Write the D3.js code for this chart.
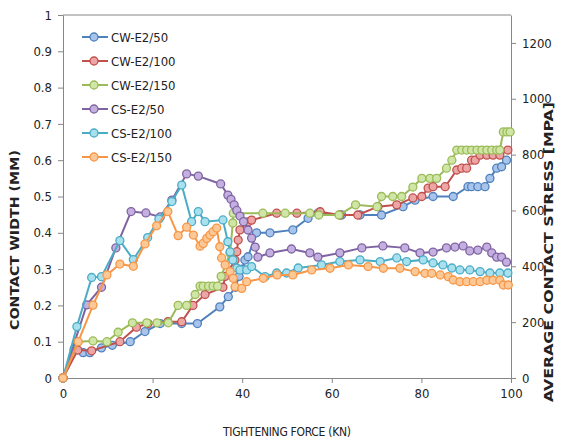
<!DOCTYPE html>
<html>
<head>
<meta charset="utf-8">
<script src="https://cdn.jsdelivr.net/npm/d3@7"></script>
<style>
  body { margin: 0; background: #fff; }
  text { font-family: "DejaVu Sans Condensed", "Liberation Sans Narrow", "Liberation Sans", sans-serif; }
</style>
</head>
<body>
<div id="container"></div>
<script>
// tightening force (kN) / contact width (mm)
const cwE2_50 = [[0,0],[2.5,0.08],[4.5,0.07],[6,0.07],[8.6,0.083],[11,0.09],[15,0.1],[18.3,0.128],[21.7,0.15],[26.5,0.15],[30,0.15],[35,0.196],[36.9,0.224],[38.5,0.25],[39.3,0.28],[40,0.3],[40.6,0.325],[41.3,0.334],[43.2,0.4],[46.2,0.4],[51.3,0.408],[54.7,0.44],[56.9,0.454],[62.2,0.449],[66.3,0.449],[71.1,0.449],[75.9,0.472],[78.6,0.49],[82.6,0.5],[87.1,0.5],[90.4,0.527],[91.2,0.527],[92.6,0.527],[94.2,0.527],[95.3,0.55],[96.8,0.578],[97.9,0.582],[99,0.6]];
const cwE2_100 = [[0,0],[3.3,0.077],[6.4,0.075],[12.7,0.1],[16.4,0.14],[19,0.15],[23.4,0.155],[26.5,0.155],[29,0.2],[31.7,0.23],[35.7,0.25],[36.2,0.28],[38.4,0.325],[38.8,0.348],[39.1,0.38],[39.5,0.408],[41.3,0.43],[42.1,0.435],[47.7,0.454],[52.2,0.454],[57.4,0.458],[61.8,0.449],[65.8,0.449],[70.3,0.472],[74.5,0.477],[78.1,0.496],[80.1,0.5],[81.5,0.523],[82.6,0.527],[85.3,0.527],[87.9,0.573],[89,0.578],[90.1,0.578],[91.2,0.6],[92,0.6],[93.1,0.614],[94.6,0.614],[96,0.614],[97.5,0.614],[99.3,0.628]];
const cwE2_150 = [[0,0],[3.3,0.1],[6.7,0.102],[9.8,0.1],[12.3,0.126],[15.5,0.152],[18.7,0.152],[21,0.152],[23.5,0.152],[25.7,0.2],[27.6,0.2],[29.5,0.23],[30.6,0.253],[31.3,0.253],[32.5,0.253],[33.5,0.253],[34.5,0.253],[35.3,0.28],[37.3,0.344],[37.9,0.427],[38,0.454],[44.6,0.454],[49.6,0.454],[55.1,0.454],[57.1,0.449],[61.6,0.449],[65.3,0.477],[70.1,0.472],[71.1,0.5],[73.6,0.5],[75.6,0.5],[78.1,0.526],[80.1,0.55],[81.9,0.55],[83.4,0.55],[85.6,0.578],[86.8,0.6],[87.9,0.628],[89,0.628],[90.1,0.628],[91.2,0.628],[92.4,0.628],[93.5,0.628],[94.6,0.628],[95.7,0.628],[96.8,0.628],[97.5,0.628],[98.3,0.678],[99.1,0.678],[99.8,0.678]];
// tightening force (kN) / average contact stress (MPa)
const csE2_50 = [[0,0],[5.3,262],[8.6,325],[11.8,466],[15.2,596],[18.5,591],[21.7,577],[24.3,637],[27.6,731],[30.2,723],[35.2,695],[36.8,655],[37.5,640],[38.2,620],[38.8,600],[39.5,580],[40.3,560],[41.3,530],[42.1,501],[42.9,469],[43.5,433],[46.2,448],[51,462],[55.1,448],[56.9,433],[61.8,448],[66.7,466],[71.4,473],[76.3,466],[79.7,448],[82.6,451],[85.6,466],[87.5,469],[89.3,473],[90.8,455],[92.6,458],[94.6,469],[95.7,448],[96.8,433],[97.9,433],[99,415]];
const csE2_100 = [[0,0],[3.1,184],[6.4,360],[8.6,363],[12.7,492],[15.7,424],[18.9,503],[21.4,569],[24.3,632],[26.5,691],[28.7,560],[30.2,596],[31.7,560],[35.7,566],[36.8,488],[37.3,452],[37.9,423],[38.8,394],[39.5,387],[41,387],[42.1,399],[45.1,363],[47.7,376],[49.9,376],[52.5,394],[57.7,405],[61.8,417],[66.3,423],[70.8,417],[74.5,430],[76.7,417],[80.4,423],[82.6,412],[84.8,405],[86.8,394],[88.6,387],[90.8,387],[93.1,381],[95.3,376],[97.5,376],[99.3,376]];
const csE2_150 = [[0,0],[3.4,130],[6.7,261],[9.8,369],[12.7,408],[15.7,400],[18.3,480],[20.9,545],[23.4,596],[25.7,510],[27.6,540],[29.1,512],[30.6,472],[31.3,482],[32.1,500],[32.8,512],[33.5,524],[34.3,537],[35,470],[35.4,430],[36.2,405],[37.3,381],[38,357],[38.4,327],[39.9,321],[41,345],[44.7,357],[47.8,369],[51.3,369],[55.5,387],[59.6,393],[63.7,405],[68.1,399],[71.5,393],[75.2,393],[78.6,381],[80.8,375],[82.3,375],[84.2,369],[86,363],[87.1,351],[88.6,345],[90.1,345],[91.6,345],[93.1,345],[94.6,350],[96,350],[97.5,350],[98.3,333],[99.4,333]];

const seriesNames = ["CW-E2/50", "CW-E2/100", "CW-E2/150", "CS-E2/50", "CS-E2/100", "CS-E2/150"];
const xTicks = [0, 20, 40, 60, 80, 100];
const leftTicks = [0, 0.1, 0.2, 0.3, 0.4, 0.5, 0.6, 0.7, 0.8, 0.9, 1];
const rightTicks = [0, 200, 400, 600, 800, 1000, 1200];

function main() {
    const width = 564, height = 442;
    const svg = d3.select("#container")
        .append("svg")
        .attr("width", width)
        .attr("height", height);

    const x = d3.scaleLinear().domain([0, 100]).range([63, 511]);
    const yL = d3.scaleLinear().domain([0, 1]).range([378, 15]);
    const yR = d3.scaleLinear().domain([0, 1300]).range([378, 15]);

    const colors = ["#4F81BD", "#C0504D", "#9BBB59", "#8064A2", "#4BACC6", "#F79646"];
    const fills = ["#a9c4eb", "#eba6a5", "#d0e6a6", "#c3b0e0", "#a8e0ee", "#fcc896"];

    // frame top line
    svg.append("line")
        .attr("x1", 63).attr("x2", 511)
        .attr("y1", 15).attr("y2", 15)
        .attr("stroke", "#868686");

    const styleAxis = g => {
        g.select(".domain").attr("stroke", "#868686");
        g.selectAll(".tick line").attr("stroke", "#868686");
        g.selectAll(".tick text").attr("fill", "#222").attr("font-size", 13);
    };

    svg.append("g")
        .attr("transform", "translate(0,378)")
        .call(d3.axisBottom(x).tickValues(xTicks).tickSize(5).tickSizeOuter(0).tickPadding(6))
        .call(styleAxis);
    svg.append("g")
        .attr("transform", "translate(63,0)")
        .call(d3.axisLeft(yL).tickValues(leftTicks).tickSize(5).tickSizeOuter(0).tickPadding(6).tickFormat(d3.format("")))
        .call(styleAxis);
    svg.append("g")
        .attr("transform", "translate(511,0)")
        .call(d3.axisRight(yR).tickValues(rightTicks).tickSize(5).tickSizeOuter(0).tickPadding(6).tickFormat(d3.format("d")))
        .call(styleAxis);

    // axis titles
    svg.append("text")
        .attr("x", 287).attr("y", 436)
        .attr("text-anchor", "middle")
        .attr("font-size", 12)
        .attr("fill", "#222")
        .attr("textLength", 128)
        .text("TIGHTENING FORCE (KN)");
    svg.append("text")
        .attr("transform", "translate(19,240) rotate(-90)")
        .attr("text-anchor", "middle")
        .attr("font-family", "DejaVu Sans, sans-serif")
        .attr("font-size", 12.5)
        .attr("font-weight", "bold")
        .attr("fill", "#222")
        .attr("textLength", 180)
        .attr("lengthAdjust", "spacingAndGlyphs")
        .text("CONTACT WIDTH (MM)");
    svg.append("text")
        .attr("transform", "translate(553,252) rotate(-90)")
        .attr("text-anchor", "middle")
        .attr("font-family", "DejaVu Sans, sans-serif")
        .attr("font-size", 12.5)
        .attr("font-weight", "bold")
        .attr("fill", "#222")
        .attr("textLength", 300)
        .attr("lengthAdjust", "spacingAndGlyphs")
        .text("AVERAGE CONTACT STRESS [MPA]");

    const all = [
        { data: cwE2_50, y: yL }, { data: cwE2_100, y: yL }, { data: cwE2_150, y: yL },
        { data: csE2_50, y: yR }, { data: csE2_100, y: yR }, { data: csE2_150, y: yR }
    ];

    all.forEach((s, i) => {
        const line = d3.line().x(d => x(d[0])).y(d => s.y(d[1]));
        const g = svg.append("g");
        g.append("path")
            .attr("d", line(s.data))
            .attr("fill", "none")
            .attr("stroke", colors[i])
            .attr("stroke-width", 2);
        g.selectAll("circle")
            .data(s.data)
            .join("circle")
            .attr("cx", d => x(d[0]))
            .attr("cy", d => s.y(d[1]))
            .attr("r", 4)
            .attr("fill", fills[i])
            .attr("stroke", colors[i])
            .attr("stroke-width", 1.3);
    });

    // legend
    const legend = svg.append("g");
    seriesNames.forEach((n, i) => {
        const ly = 37 + i * 24;
        legend.append("line")
            .attr("x1", 82).attr("x2", 108)
            .attr("y1", ly).attr("y2", ly)
            .attr("stroke", colors[i]).attr("stroke-width", 2);
        legend.append("circle")
            .attr("cx", 94).attr("cy", ly).attr("r", 4)
            .attr("fill", fills[i]).attr("stroke", colors[i]).attr("stroke-width", 1.3);
        legend.append("text")
            .attr("x", 111).attr("y", ly + 5)
            .attr("font-size", 13)
            .attr("fill", "#222")
            .text(n);
    });
}
main();
</script>
</body>
</html>
